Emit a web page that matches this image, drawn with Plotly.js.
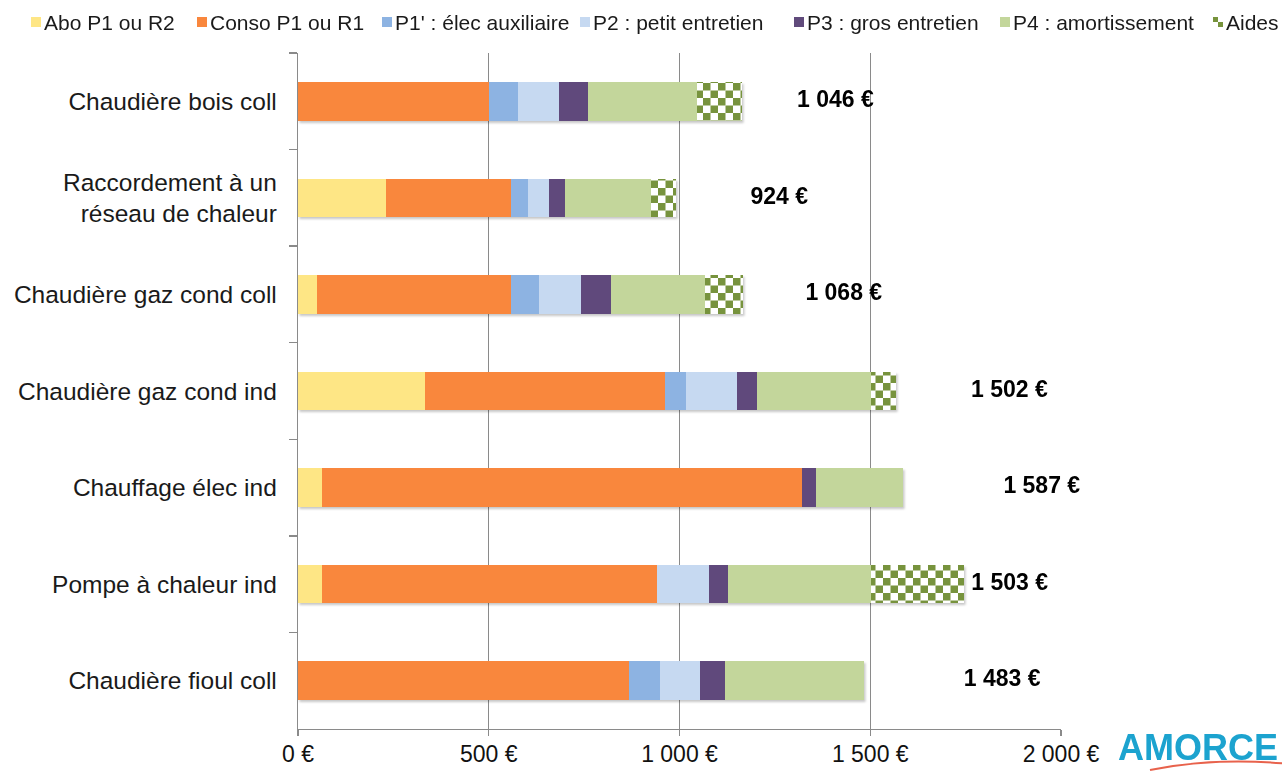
<!DOCTYPE html>
<html>
<head>
<meta charset="utf-8">
<script src="https://cdn.plot.ly/plotly-3.0.1.min.js"></script>
<style>
  html, body { margin: 0; padding: 0; background: #ffffff; }
  #chart { width: 1282px; height: 771px; }
</style>
</head>
<body>
<div id="chart"></div>
<script>
// Annual cost per dwelling by heating solution (€ per year)
const categories = [
  'Chaudière bois coll',
  'Raccordement à un<br>réseau de chaleur',
  'Chaudière gaz cond coll',
  'Chaudière gaz cond ind',
  'Chauffage élec ind',
  'Pompe à chaleur ind',
  'Chaudière fioul coll'
];
const seriesNames = [
  'Abo P1 ou R2',
  'Conso P1 ou R1',
  "P1' : élec auxiliaire",
  'P2 : petit entretien',
  'P3 : gros entretien',
  'P4 : amortissement',
  'Aides'
];
const aboP1 = [0, 230, 49, 333, 63, 63, 0];
const consoP1 = [500, 327, 508, 630, 1257, 879, 868];
const elecAux = [76, 45, 74, 54, 0, 0, 80];
const petitEntretien = [109, 56, 112, 135, 0, 136, 105];
const grosEntretien = [76, 43, 78, 52, 37, 50, 67];
const amortissement = [285, 223, 247, 298, 230, 375, 363];
const aides = [117, 66, 98, 66, 0, 243, 0];
const tickValues = [0, 500, 1000, 1500, 2000];
const tickLabels = ['0 €', '500 €', '1 000 €', '1 500 €', '2 000 €'];

// Styling
const FONT = 'Liberation Sans, Arial, Helvetica, sans-serif';
const colors = ['#FEE685', '#F9873D', '#8DB3E2', '#C6D9F1', '#604A7B', '#C3D69B', '#77933C'];
const AXIS = '#8a8a8a';
const LABEL_SHIFT = 262;          // value labels sit a fixed distance right of the net cost
const legendLeft = [31, 197, 382, 580, 794, 1000, 1213];   // swatch left edges (px)

const costSeries = [aboP1, consoP1, elecAux, petitEntretien, grosEntretien, amortissement];
const totals = categories.map((_, i) => costSeries.reduce((s, arr) => s + arr[i], 0));
const fmt = v => String(v).replace(/\B(?=(\d{3})+(?!\d))/g, ' ') + ' €';

const allSeries = costSeries.concat([aides]);
const traces = allSeries.map((vals, k) => {
  const t = {
    type: 'bar',
    orientation: 'h',
    name: seriesNames[k],
    y: categories,
    x: vals,
    marker: { color: colors[k], line: { width: 0 } },
    hoverinfo: 'x+name',
    showlegend: false
  };
  if (k === 6) {
    t.marker.pattern = { shape: '+', fgcolor: colors[6], bgcolor: '#ffffff', size: 15, solidity: 0.5 };
  }
  return t;
});

traces.push({
  type: 'scatter',
  mode: 'text',
  y: categories,
  x: totals.map(t => t + LABEL_SHIFT),
  text: totals.map(fmt),
  textposition: 'middle right',
  textfont: { family: FONT, size: 23, color: '#000000', weight: 'bold' },
  cliponaxis: false,
  hoverinfo: 'skip',
  showlegend: false
});

// pixel -> paper helpers for the hand-placed legend and logo
const PL = 298, PR = 1061, PT = 53, PB = 729;
const px = x => (x - PL) / (PR - PL);
const py = y => (PB - y) / (PB - PT);

const shapes = [];
const annotations = [];
seriesNames.forEach((name, k) => {
  const x0 = legendLeft[k];
  if (k === 6) {
    shapes.push({ type: 'rect', xref: 'paper', yref: 'paper', x0: px(x0), x1: px(x0 + 5), y0: py(22), y1: py(17), fillcolor: colors[6], line: { width: 0 } });
    shapes.push({ type: 'rect', xref: 'paper', yref: 'paper', x0: px(x0 + 5), x1: px(x0 + 10), y0: py(27), y1: py(22), fillcolor: colors[6], line: { width: 0 } });
  } else {
    shapes.push({ type: 'rect', xref: 'paper', yref: 'paper', x0: px(x0), x1: px(x0 + 10), y0: py(27), y1: py(17), fillcolor: colors[k], line: { width: 0 } });
  }
  annotations.push({
    xref: 'paper', yref: 'paper', x: px(x0 + 11), y: py(22),
    xanchor: 'left', yanchor: 'middle', showarrow: false,
    text: name, font: { family: FONT, size: 21, color: '#1a1a1a' }
  });
});

// AMORCE mark, bottom right
annotations.push({
  xref: 'paper', yref: 'paper', x: px(1116), y: py(747),
  xanchor: 'left', yanchor: 'middle', showarrow: false,
  text: 'AMORCE', font: { family: FONT, size: 36, color: '#1CA3CF', weight: 'bold' }
});
shapes.push({
  type: 'path', xref: 'paper', yref: 'paper',
  path: `M${px(1150)},${py(770)} Q${px(1215)},${py(757)} ${px(1290)},${py(764)}`,
  line: { color: '#E8624C', width: 2 }
});

const layout = {
  width: 1282,
  height: 771,
  margin: { l: PL, r: 1282 - PR, t: PT, b: 771 - PB, pad: 0 },
  paper_bgcolor: '#ffffff',
  plot_bgcolor: '#ffffff',
  barmode: 'stack',
  bargap: 0.6,
  font: { family: FONT, color: '#1a1a1a' },
  xaxis: {
    range: [0, 2000],
    tickvals: tickValues,
    ticktext: tickLabels,
    showgrid: true,
    gridcolor: AXIS,
    gridwidth: 1.3,
    zeroline: false,
    showline: true,
    linecolor: AXIS,
    linewidth: 1.3,
    ticks: 'outside',
    ticklen: 6,
    tickwidth: 1.3,
    tickcolor: AXIS,
    ticklabelstandoff: -2,
    tickfont: { family: FONT, size: 23, color: '#111111' }
  },
  yaxis: {
    type: 'category',
    autorange: 'reversed',
    showgrid: false,
    zeroline: false,
    showline: true,
    linecolor: AXIS,
    linewidth: 1.3,
    ticks: 'outside',
    tickson: 'boundaries',
    ticklen: 8,
    tickwidth: 1.3,
    tickcolor: AXIS,
    ticklabelstandoff: 15,
    tickfont: { family: FONT, size: 24.5, color: '#1a1a1a' }
  },
  shapes: shapes,
  annotations: annotations,
  showlegend: false
};

Plotly.newPlot('chart', traces, layout, { displayModeBar: false, staticPlot: true }).then(gd => {
  const ns = 'http://www.w3.org/2000/svg';
  // Checkerboard fill for the subsidy segments
  gd.querySelectorAll('pattern').forEach(p => {
    const s = parseFloat(p.getAttribute('width')) || 15;
    const h = s / 2;
    while (p.firstChild) p.removeChild(p.firstChild);
    const cell = (x, y, w, hh, f) => {
      const r = document.createElementNS(ns, 'rect');
      r.setAttribute('x', x); r.setAttribute('y', y);
      r.setAttribute('width', w); r.setAttribute('height', hh);
      r.setAttribute('fill', f);
      p.appendChild(r);
    };
    cell(0, 0, s, s, '#ffffff');
    cell(0, 0, h, h, colors[6]);
    cell(h, h, h, h, colors[6]);
  });
  // Soft drop shadow under the stacked bars
  const svg = gd.querySelector('svg.main-svg');
  let defs = svg.querySelector('defs');
  if (!defs) { defs = document.createElementNS(ns, 'defs'); svg.insertBefore(defs, svg.firstChild); }
  const filter = document.createElementNS(ns, 'filter');
  filter.setAttribute('id', 'barshadow');
  filter.setAttribute('x', '-5%'); filter.setAttribute('y', '-20%');
  filter.setAttribute('width', '115%'); filter.setAttribute('height', '150%');
  const ds = document.createElementNS(ns, 'feDropShadow');
  ds.setAttribute('dx', '1.5'); ds.setAttribute('dy', '2');
  ds.setAttribute('stdDeviation', '1.2');
  ds.setAttribute('flood-color', '#000000');
  ds.setAttribute('flood-opacity', '0.22');
  filter.appendChild(ds);
  defs.appendChild(filter);
  const bl = gd.querySelector('.barlayer');
  if (bl) bl.setAttribute('filter', 'url(#barshadow)');
});
</script>
</body>
</html>
